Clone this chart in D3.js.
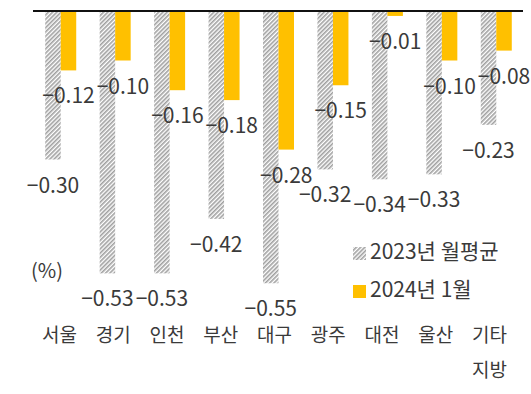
<!DOCTYPE html>
<html><head><meta charset="utf-8">
<script src="https://cdn.jsdelivr.net/npm/d3@7"></script>
<style>body{margin:0;background:#fff}svg{display:block}</style>
</head><body>
<script>
const categories = ["서울","경기","인천","부산","대구","광주","대전","울산","기타\n지방"];
const avg2023 = [-0.30,-0.53,-0.53,-0.42,-0.55,-0.32,-0.34,-0.33,-0.23];
const jan2024 = [-0.12,-0.10,-0.16,-0.18,-0.28,-0.15,-0.01,-0.10,-0.08];
const seriesNames = ["2023년 월평균","2024년 1월"];
const unitLabel = "(%)";

const W=531,H=394;
const svg=d3.select("body").append("svg").attr("width",W).attr("height",H);
const defs=svg.append("defs");
const pat=defs.append("pattern").attr("id","hatch").attr("patternUnits","userSpaceOnUse")
  .attr("width",3).attr("height",3).attr("patternTransform","rotate(45)");
pat.append("rect").attr("width",3).attr("height",3).attr("fill","#ffffff");
pat.append("rect").attr("width",1.6).attr("height",3).attr("fill","#a0a0a0");

const x=d3.scaleBand().domain(d3.range(categories.length)).range([33.5,523.5]).padding(0);
const xl=d3.scalePoint().domain(d3.range(categories.length)).range([59.5,489.5]);
const y=d3.scaleLinear().domain([0,-0.6]).range([11,11+0.6*495]);
const bw=15.5;
const fontNum='"Noto Sans CJK KR", "Noto Sans", sans-serif';
const txtColor="#3a3a3a";
const fmt=v=>"−"+Math.abs(v).toFixed(2);

// bars
const g=svg.append("g");
g.selectAll("rect.a").data(avg2023).join("rect").attr("class","a")
  .attr("x",(d,i)=>x(i)+x.bandwidth()/2-bw).attr("y",y(0))
  .attr("width",bw).attr("height",d=>y(d)-y(0)).attr("fill","url(#hatch)");
g.selectAll("rect.b").data(jan2024).join("rect").attr("class","b")
  .attr("x",(d,i)=>x(i)+x.bandwidth()/2).attr("y",y(0))
  .attr("width",bw).attr("height",d=>y(d)-y(0)).attr("fill","#FFC000");

// axis line
svg.append("line").attr("x1",33).attr("x2",523).attr("y1",y(0)).attr("y2",y(0))
  .attr("stroke","#111").attr("stroke-width",2);

// value labels
const lbl=svg.append("g").attr("font-family",fontNum).attr("font-size",21).attr("fill",txtColor).attr("text-anchor","middle");
lbl.selectAll("text.a").data(avg2023).join("text").attr("class","a")
  .attr("x",(d,i)=>x(i)+x.bandwidth()/2-bw/2).attr("y",d=>y(d)+33).text(fmt);
lbl.selectAll("text.b").data(jan2024).join("text").attr("class","b")
  .attr("x",(d,i)=>x(i)+x.bandwidth()/2+bw/2).attr("y",d=>y(d)+33).text(fmt);

// category labels
const cat=svg.append("g").attr("font-family",fontNum).attr("font-size",19).attr("fill",txtColor).attr("text-anchor","middle");
categories.forEach((c,i)=>{
  const t=cat.append("text").attr("x",xl(i)).attr("y",342);
  c.split("\n").forEach((line,j)=>t.append("tspan").attr("x",xl(i)).attr("dy",j?35:0).text(line));
});

// unit
svg.append("text").attr("x",31).attr("y",278).attr("font-family",fontNum).attr("font-size",20).attr("fill",txtColor).text(unitLabel);

// legend
const leg=svg.append("g").attr("font-family",fontNum).attr("font-size",21).attr("fill",txtColor);
const legY=[259,297];
const fills=["url(#hatch)","#FFC000"];
seriesNames.forEach((s,i)=>{
  leg.append("rect").attr("x",353).attr("y",legY[i]-12).attr("width",13).attr("height",13).attr("fill",fills[i]);
  leg.append("text").attr("x",370).attr("y",legY[i]).text(s);
});
</script>
</body></html>
